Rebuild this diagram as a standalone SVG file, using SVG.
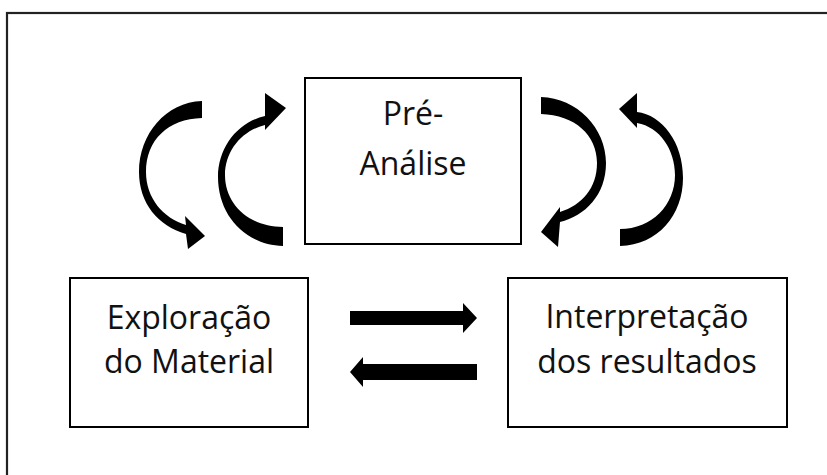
<svg xmlns="http://www.w3.org/2000/svg" width="827" height="475" viewBox="0 0 827 475">
<style>
.box{fill:#fff;stroke:#000;stroke-width:2}
.lbl{font-family:"Open Sans","Liberation Sans",sans-serif;font-size:32px;fill:#111;text-anchor:middle}
.arr{fill:#000;stroke:none}
</style>
<rect x="0" y="0" width="827" height="475" fill="#fff"/>
<rect x="7" y="13" width="840" height="480" fill="none" stroke="#222" stroke-width="2.2"/>
<g id="pre-analise">
<rect class="box" x="305" y="78" width="216" height="166"/>
<text class="lbl" x="413" y="125">Pré-</text>
<text class="lbl" x="413" y="175">Análise</text>
</g>
<g id="exploracao">
<rect class="box" x="70" y="278" width="238" height="149"/>
<text class="lbl" x="189" y="329">Exploração</text>
<text class="lbl" x="189" y="373">do Material</text>
</g>
<g id="interpretacao">
<rect class="box" x="508" y="278" width="279" height="149"/>
<text class="lbl" x="647" y="328">Interpretação</text>
<text class="lbl" x="647" y="373">dos resultados</text>
</g>
<g id="connectors">
<path class="arr" d="M202,101 C166,102 139,134 139,172 C139,203 158,226 186,234 L188,249 L205,236 L185,216 L186,225 C163,218 146,198 146,172 C146,140 168,119 202,118 Z"/>
<path class="arr" d="M283,246 C245,245 218,215 218,177 C218,147 238,122 265,116 L265,93 L286,108 L265,130 L265,125 C243,130 225,150 225,175 C225,205 250,227 283,227 Z"/>
<path class="arr" d="M541,97 C577,98 606,128 606,163 C606,195 585,216 560,222 L558,247 L541,232 L560,207 L560,212 C582,205 597,188 597,163 C597,135 575,115 541,114 Z"/>
<path class="arr" d="M620,246 C658,245 683,215 683,178 C683,142 662,115 637,112 L637,93 L619,109 L637,128 L637,123 C660,127 675,150 675,175 C675,205 652,229 620,229 Z"/>
<path class="arr" d="M350,311 L463,311 L463,303 L477,318 L463,333 L463,325 L350,325 Z"/>
<path class="arr" d="M477,364 L363,364 L363,357 L350,372 L363,387 L363,380 L477,380 Z"/>
</g>
</svg>
